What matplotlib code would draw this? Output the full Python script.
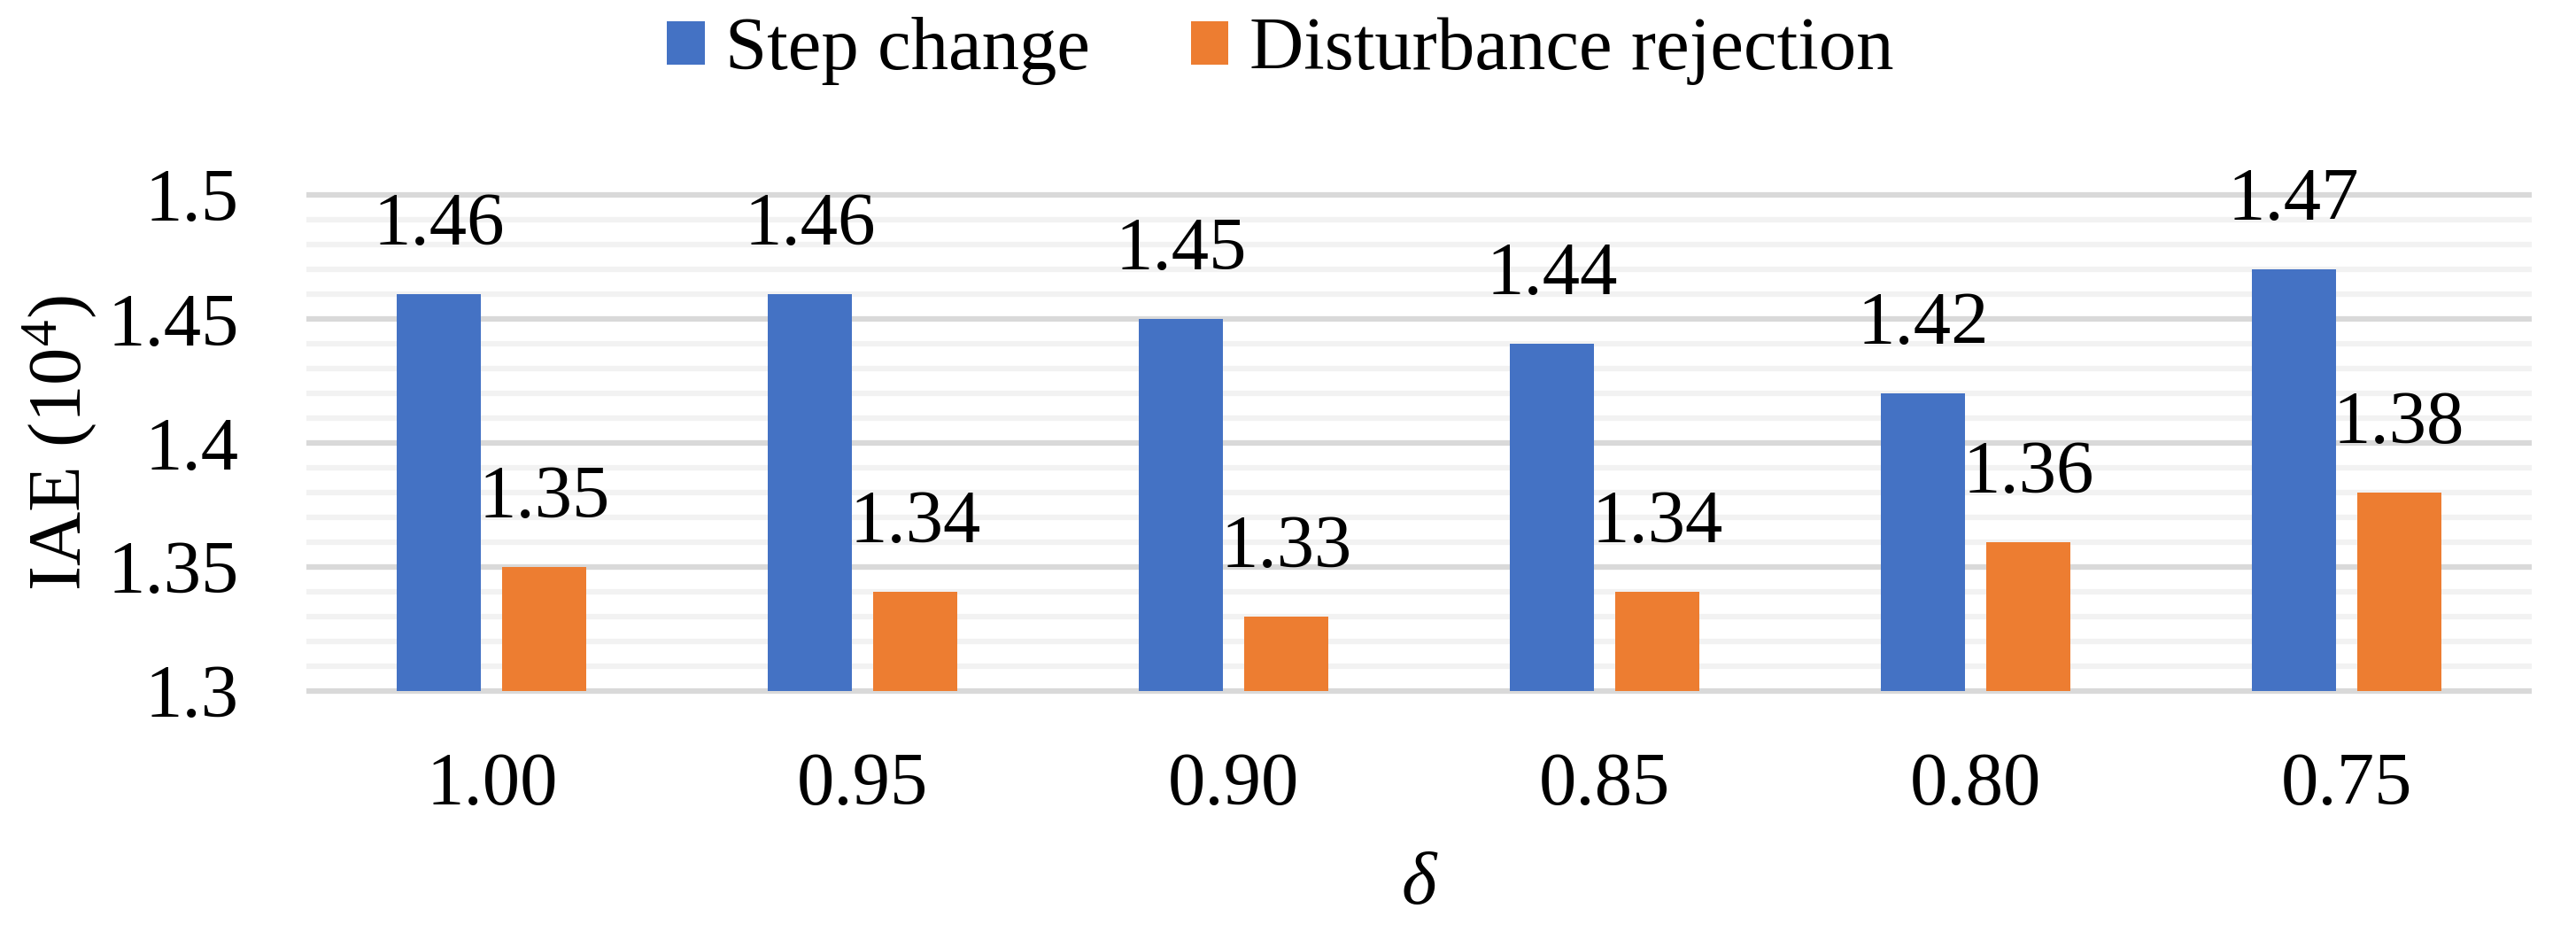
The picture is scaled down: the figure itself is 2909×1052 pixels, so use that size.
import numpy as np
import matplotlib
matplotlib.use("Agg")
import matplotlib.pyplot as plt
import matplotlib.ticker as ticker

plt.rcParams['font.family'] = ['Liberation Serif', 'DejaVu Serif']
plt.rcParams['mathtext.fontset'] = 'custom'
plt.rcParams['mathtext.rm'] = 'Liberation Serif'
plt.rcParams['mathtext.it'] = 'Liberation Serif:italic'

# dades
deltes = ['1.00', '0.95', '0.90', '0.85', '0.80', '0.75']
step_change = [1.46, 1.46, 1.45, 1.44, 1.42, 1.47]
disturbance = [1.35, 1.34, 1.33, 1.34, 1.36, 1.38]
y_ticks = [1.3, 1.35, 1.4, 1.45, 1.5]

blau = '#4472C4'
taronja = '#ED7D31'
fs = 61

W, H = 2909, 1052
fig = plt.figure(figsize=(W / 100, H / 100), dpi=100)

y0, y1 = 1.2985, 1.5015
px_per_unit = 2800.0
top_px = 220 - (y1 - 1.5) * px_per_unit
bot_px = 780 + (1.3 - y0) * px_per_unit
ax = fig.add_axes([346 / W, 1 - bot_px / H, (2859 - 346) / W, (bot_px - top_px) / H])

x = np.arange(len(deltes))
amplada = 0.227
desp = 0.142
base = 1.3
b1 = ax.bar(x - desp, np.array(step_change) - base, amplada, bottom=base, color=blau,
            label='Step change', zorder=3)
b2 = ax.bar(x + desp, np.array(disturbance) - base, amplada, bottom=base, color=taronja,
            label='Disturbance rejection', zorder=3)

# etiquetes de valor
for xi, v in zip(x - desp, step_change):
    ax.annotate(f'{v:.2f}', (xi, v), xytext=(0, 40), textcoords='offset points',
                ha='center', va='baseline', fontsize=fs)
for xi, v in zip(x + desp, disturbance):
    ax.annotate(f'{v:.2f}', (xi, v), xytext=(0, 40), textcoords='offset points',
                ha='center', va='baseline', fontsize=fs)

ax.set_xlim(-0.5, len(deltes) - 0.5)
ax.set_ylim(y0, y1)
ax.set_yticks(y_ticks)
ax.yaxis.set_major_formatter(ticker.FuncFormatter(lambda v, p: f'{v:g}'))
ax.yaxis.set_minor_locator(ticker.MultipleLocator(0.01))
ax.set_xticks(x)
ax.set_xticklabels(deltes)

ax.grid(axis='y', which='major', color='#D9D9D9', linewidth=4.5, zorder=0)
ax.grid(axis='y', which='minor', color='#F2F2F2', linewidth=4.5, zorder=0)
ax.set_axisbelow(True)
for s in ax.spines.values():
    s.set_visible(False)
ax.tick_params(axis='both', which='both', length=0, labelsize=fs)
ax.tick_params(axis='y', pad=55)
ax.tick_params(axis='x', pad=47)

ax.set_xlabel('δ', fontsize=fs, fontstyle='italic', labelpad=25)
fig.text(67 / W, 1 - 500 / H, r'IAE (10$^4$)', rotation=90, ha='center', va='center',
         fontsize=fs)

fig.legend(handles=[b1, b2], loc='center', bbox_to_anchor=(0.497, 1 - 58 / H), ncol=2,
           frameon=False, fontsize=fs, handlelength=0.5, handleheight=0.5,
           handletextpad=0.28, columnspacing=1.34, borderaxespad=0, borderpad=0)

fig.savefig('out.png', dpi=100)
